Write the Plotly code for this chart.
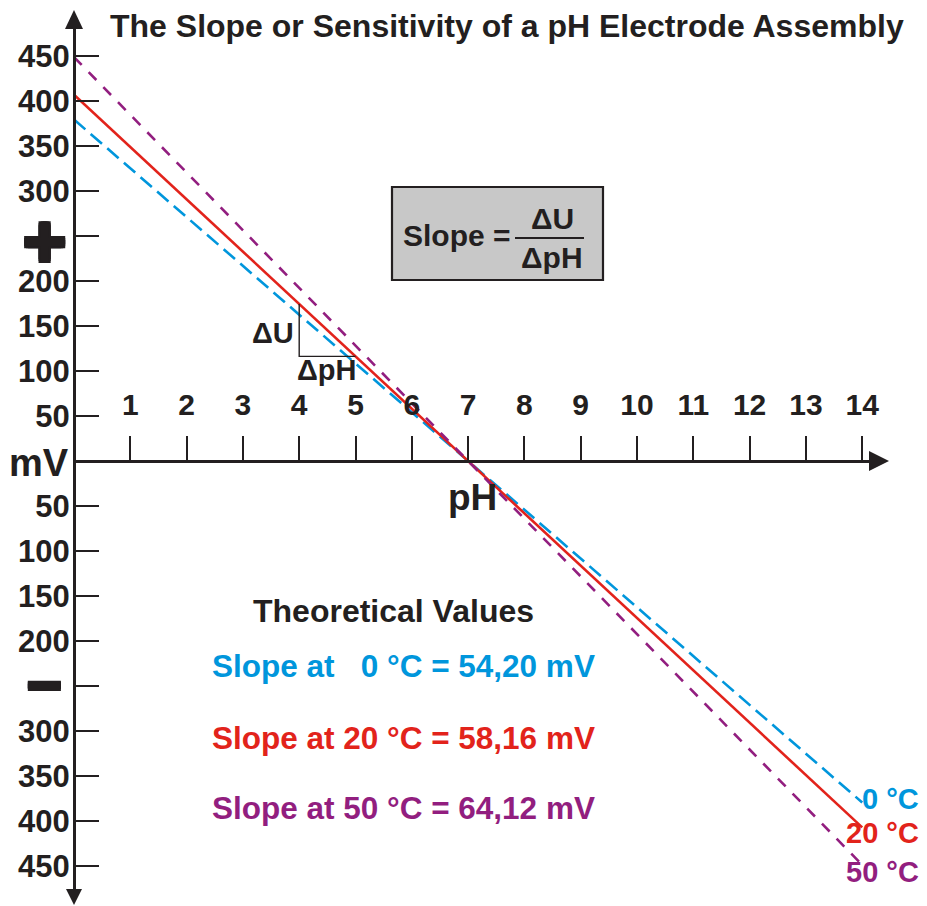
import plotly.graph_objects as go

# ---------------- data ----------------
PH_TICKS = list(range(1, 15))
PH_TICK_LABELS = [str(v) for v in PH_TICKS]

MV_TICKS = [450, 400, 350, 300, 250, 200, 150, 100, 50,
            -50, -100, -150, -200, -250, -300, -350, -400, -450]
MV_TICK_LABELS = ["450", "400", "350", "300", "", "200", "150", "100", "50",
                  "50", "100", "150", "200", "", "300", "350", "400", "450"]

PH_ENDS = [0, 14]
MV_0C = [379.4, -379.4]     # slope 54,20 mV
MV_20C = [407.1, -407.1]    # slope 58,16 mV
MV_50C = [448.8, -448.8]    # slope 64,12 mV

TRI_PH = [4, 4, 5]
TRI_MV = [174.5, 116.3, 116.3]

SERIES_NAMES = ["0 °C", "20 °C", "50 °C"]
LEGEND_TEXTS = ["Slope at \u00a0\u00a00 °C = 54,20 mV",
                "Slope at 20 °C = 58,16 mV",
                "Slope at 50 °C = 64,12 mV"]

# ---------------- style ----------------
W, H = 927, 906
BLACK = "#231F20"
BLUE = "#0096DC"
RED = "#E2231B"
PURPLE = "#921E7F"
FONT = "Liberation Sans, Arial, sans-serif"

X0, X1 = 74, 880          # pixel extent of x axis domain
Y_TOP, Y_BOT = 20, 895    # pixel extent of y axis domain
PX_PER_PH = 56.3
PX_PER_MV = 0.9
Y_ZERO = 461


def px(x):
    return x / W


def py(y):
    return 1 - y / H


def f(size, color=BLACK, shadow=None):
    d = dict(family=FONT, size=size, color=color, weight="bold")
    if shadow:
        d["shadow"] = shadow
    return d


fig = go.Figure()

for xs, ys, col, dash in [(PH_ENDS, MV_0C, BLUE, "15px,7px"),
                          (PH_ENDS, MV_20C, RED, "solid"),
                          (PH_ENDS, MV_50C, PURPLE, "11px,10px")]:
    fig.add_trace(go.Scatter(x=xs, y=ys, mode="lines",
                             line=dict(color=col, width=2.6, dash=dash),
                             hoverinfo="skip", showlegend=False))

fig.add_trace(go.Scatter(x=TRI_PH, y=TRI_MV, mode="lines",
                         line=dict(color=BLACK, width=1.4),
                         hoverinfo="skip", showlegend=False))

x_range = [0, (X1 - X0) / PX_PER_PH]
y_range = [(Y_ZERO - Y_BOT) / PX_PER_MV, (Y_ZERO - Y_TOP) / PX_PER_MV]

fig.update_layout(
    width=W, height=H,
    margin=dict(l=0, r=0, t=0, b=0),
    paper_bgcolor="white", plot_bgcolor="white",
    showlegend=False,
    xaxis=dict(domain=[px(X0), px(X1)], range=x_range,
               anchor="free", position=py(Y_ZERO), side="top",
               showline=True, linewidth=3, linecolor=BLACK,
               ticks="outside", ticklen=24, tickwidth=1.5, tickcolor=BLACK,
               tickmode="array", tickvals=PH_TICKS, ticktext=PH_TICK_LABELS,
               tickfont=f(30), ticklabelstandoff=9,
               showgrid=False, zeroline=False, fixedrange=True),
    yaxis=dict(domain=[py(Y_BOT), py(Y_TOP)], range=y_range,
               anchor="free", position=px(X0), side="left",
               showline=True, linewidth=3, linecolor=BLACK,
               ticks="inside", ticklen=23, tickwidth=1.5, tickcolor=BLACK,
               tickmode="array", tickvals=MV_TICKS, ticktext=MV_TICK_LABELS,
               tickfont=f(31), ticklabelstandoff=-3,
               showgrid=False, zeroline=False, fixedrange=True),
)

shapes = []
# arrow heads
for pts in [[(74, 10), (65, 29), (83, 29)],
            [(74, 905), (66, 889), (82, 889)],
            [(889, 461), (869, 451), (869, 471)]]:
    path = "M " + " L ".join(f"{px(a):.5f},{py(b):.5f}" for a, b in pts) + " Z"
    shapes.append(dict(type="path", xref="paper", yref="paper", path=path,
                       fillcolor=BLACK, line=dict(width=0)))
# formula box
shapes.append(dict(type="rect", xref="paper", yref="paper",
                   x0=px(392), x1=px(603), y0=py(280), y1=py(187),
                   fillcolor="#C8C8C8", line=dict(color=BLACK, width=2.2)))
shapes.append(dict(type="line", xref="paper", yref="paper",
                   x0=px(515), x1=px(584), y0=py(238), y1=py(238),
                   line=dict(color=BLACK, width=2)))
fig.update_layout(shapes=shapes)

ann = []


def add(text, x, y, size, color=BLACK, xa="center", ya="middle",
        shadow=None, height=None):
    a = dict(text=text, x=px(x), y=py(y), xref="paper", yref="paper",
             xanchor=xa, yanchor=ya, showarrow=False,
             font=f(size, color, shadow))
    if height:
        a["height"] = height
        a["valign"] = "middle"
    ann.append(a)


THICK = ("2px 0 0 #231F20, -2px 0 0 #231F20, 0 2px 0 #231F20, 0 -2px 0 #231F20, "
         "2px 2px 0 #231F20, -2px -2px 0 #231F20, 2px -2px 0 #231F20, -2px 2px 0 #231F20")
THIN_V = "0 1.5px 0 #231F20, 0 -1px 0 #231F20"

add("The Slope or Sensitivity of a pH Electrode Assembly", 507, 26, 32)
add("mV", 71, 463, 38, xa="right")
add("+", 44, 241, 74, shadow=THICK, height=50)
add("\u2212", 44, 684, 66, shadow=THIN_V, height=18)
add("pH", 472, 497, 37)
add("Slope =", 513, 235, 30, xa="right")
add("\u0394U", 552, 218, 30)
add("\u0394pH", 552, 257, 30)
add("\u0394U", 296, 333, 29, xa="right")
add("\u0394pH", 327, 370, 29)
add("Theoretical Values", 393, 611, 32)
for txt, col, yy in zip(LEGEND_TEXTS, [BLUE, RED, PURPLE], [666, 738, 808]):
    add(txt, 210, yy, 31.5, col, xa="left")
for txt, col, yy in zip(SERIES_NAMES, [BLUE, RED, PURPLE], [799, 833, 872]):
    add(txt, 921, yy, 29, col, xa="right")
fig.update_layout(annotations=ann)

fig.write_html("out.html",
               config={"displayModeBar": False},
               post_script="document.body.style.margin='0';document.body.style.overflow='hidden';")
